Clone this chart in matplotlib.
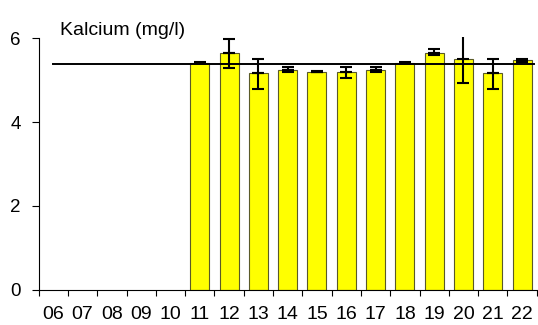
import numpy as np
import matplotlib
matplotlib.use('Agg')
import matplotlib.pyplot as plt

plt.rcParams['font.family'] = ['Liberation Sans', 'DejaVu Sans']

years = ['06', '07', '08', '09', '10', '11', '12', '13', '14', '15', '16', '17', '18', '19', '20', '21', '22']
calcium = [np.nan, np.nan, np.nan, np.nan, np.nan,
           5.42, 5.64, 5.16, 5.24, 5.20, 5.19, 5.24, 5.42, 5.64, 5.51, 5.16, 5.47]
err_low = [0, 0, 0, 0, 0, 0.02, 0.36, 0.36, 0.05, 0.01, 0.13, 0.05, 0.02, 0.03, 0.58, 0.36, 0.04]
err_high = [0, 0, 0, 0, 0, 0.02, 0.35, 0.35, 0.08, 0.01, 0.13, 0.08, 0.02, 0.10, 0.51, 0.35, 0.04]
no_top_cap = ['20']
mean_level = 5.39

fig = plt.figure(figsize=(5.38, 3.25), dpi=100)
ax = fig.add_axes([38.6 / 538, 35.3 / 325, 499.6 / 538, 255.6 / 325])

x = np.arange(len(years))
vals = np.array(calcium)
ax.bar(x, vals, width=0.65, color='#FFFF00', edgecolor='#5a5a28', linewidth=0.8, zorder=2)

# year 20 has no top cap in the reference
has = ~np.isnan(vals)
lo = np.array(err_low)
hi = np.array(err_high)
cap_top = np.array([y not in no_top_cap for y in years])
eb = dict(fmt='none', ecolor='black', elinewidth=1.5, capthick=1.5, zorder=4)
ax.errorbar(x[has], vals[has], yerr=[lo[has], np.zeros(has.sum())], capsize=4.5, **eb)
m = has & cap_top
ax.errorbar(x[m], vals[m], yerr=[np.zeros(m.sum()), hi[m]], capsize=4.5, **eb)
m = has & ~cap_top
ax.errorbar(x[m], vals[m], yerr=[np.zeros(m.sum()), hi[m]], capsize=0, **eb)

ax.plot([x[0], x[-1] + 0.4], [mean_level, mean_level], color='black', lw=1.4, zorder=3)

ax.set_xlim(-0.5, 16.55)
ax.set_ylim(0, 6.1)
ax.set_yticks([0, 2, 4, 6])
ax.set_xticks(x)
ax.set_xticklabels(years)
ax.set_xticks(np.arange(-0.5, len(years), 1), minor=True)
ax.tick_params(axis='x', which='major', length=0, pad=12, labelsize=14)
ax.tick_params(axis='x', which='minor', length=4.3, width=0.8, direction='out')
ax.tick_params(axis='y', length=5, width=0.8, pad=7.7, labelsize=13.5)

for s in ['top', 'right']:
    ax.spines[s].set_visible(False)
for s in ['left', 'bottom']:
    ax.spines[s].set_linewidth(0.8)
ax.spines['left'].set_bounds(0, 6)

fig.text(60 / 538, 1 - 35 / 325, 'Kalcium (mg/l)', fontsize=14, va='baseline', ha='left')

fig.savefig('out.png', dpi=100)
